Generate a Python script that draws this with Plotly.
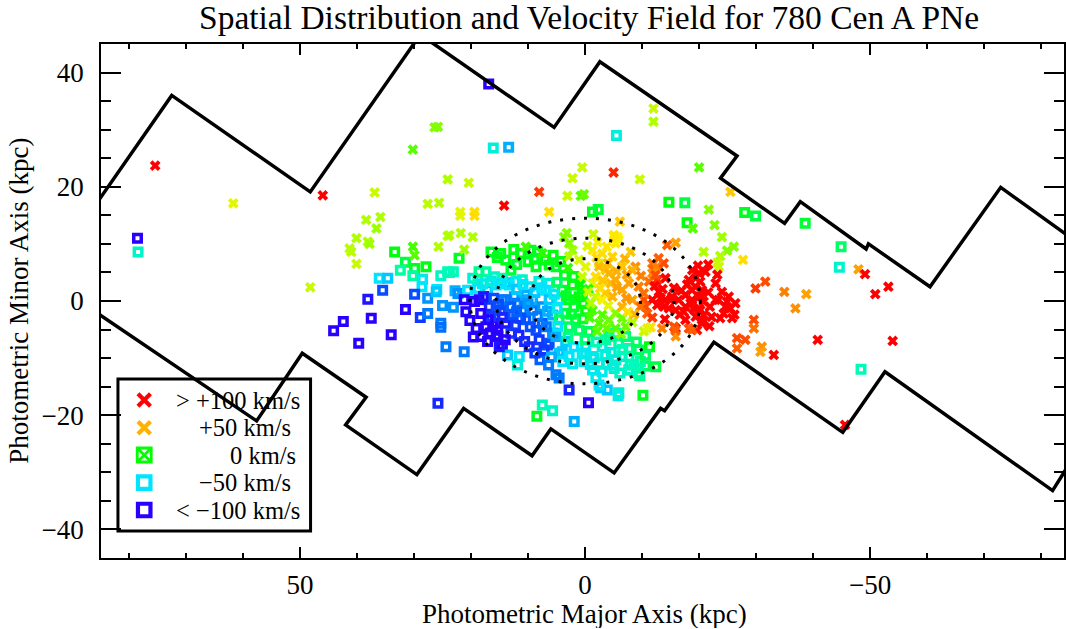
import plotly.graph_objects as go

# ------------------------------------------------------------------
# Data (kpc along photometric major / minor axis, LOS velocity km/s)
# ------------------------------------------------------------------
halo_x = [75.4, 61.7, 46.0, 78.5, 78.4, 26.4, 25.8, 30.2, 24.1, 36.9,
          27.6, 25.6, 35.9, 38.4, 36.6, 40.1, 38.1, 37.8, 41.3, 41.0,
          24.1, 30.2, 29.9, 25.7, 40.1, 48.2]
halo_y = [23.7, 17.1, 18.5, 11.0, 8.6, 30.4, 30.5, 26.5, 21.3, 19.0,
          17.0, 17.2, 14.7, 14.2, 12.7, 11.0, 10.4, 10.0, 9.2, 8.6,
          11.4, 9.5, 8.0, 9.5, 6.5, 2.4]
halo_v = [110, 30, 110, -110, -35, 15, 15, 10, 20, 25,
          22, 20, 20, 20, 18, 20, 20, 18, 22, 22,
          20, 8, 10, 20, 25, 25]

east_x = [33.4, 31.5, 29.9, 27.9, 32.4, 30.2, 28.5, 28.6, 25.3, 24.1,
          36.1, 34.6, 26.0, 35.5, 29.9, 38.1, 27.6, 26.1, 25.0, 31.5,
          28.9, 27.6, 25.3, 25.3, 42.4, 44.1, 37.5, 34.0, 39.7, 24.4,
          25.8]
east_y = [8.6, 6.8, 5.7, 6.0, 5.4, 4.4, 3.8, 2.5, 4.4, 5.1,
          4.0, 4.0, 2.0, 1.9, 1.2, 0.3, 0.5, 1.6, -0.8, -1.5,
          -2.9, -2.2, -3.9, -4.6, -3.6, -5.2, -3.0, -5.9, -7.4, -8.0,
          -17.9]
east_v = [-2, -10, -5, -3, -25, -25, -45, -50, -35, -30,
          -50, -55, -50, -80, -80, -95, -65, -55, -65, -100,
          -85, -70, -70, -72, -105, -110, -105, -110, -100, -70,
          -90]

inner_east_x = [23.8, 21.8, 19.7, 21.2, 22.1, 23.8, 23.1, 22.8, 22.3, 23.1,
                21.2, 19.7, 18.8, 17.4, 15.9, 18.8, 17.1, 15.6, 13.9, 19.4,
                18.6, 16.8, 15.6, 14.5, 12.4, 10.7, 20.9, 19.1, 17.4, 15.6,
                15.3, 13.9, 13.0, 17.1, 15.3, 14.5, 13.6, 11.55, 11.85, 10.4,
                11.0, 11.0, 12.1]
inner_east_y = [11.5, 11.9, 11.2, 9.0, 7.5, 5.0, 5.1, 1.8, 1.3, -1.1,
                -8.9, 4.0, 3.7, 5.1, 4.25, 2.2, 1.9, 2.8, 3.2, -0.1,
                0.2, -1.0, -1.6, 0.2, 0.75, 0.2, -1.9, -4.8, -4.5, -3.9,
                -5.1, -3.9, -5.65, -7.1, -6.2, -7.7, -9.45, -9.7, -11.2, -3.3,
                -1.6, 3.7, 3.4]
inner_east_v = [20, 20, 20, 18, -5, -30, -30, -60, -65, -65,
                -70, -40, -30, -25, -35, -50, -55, -50, -55, -105,
                -100, -90, -80, -70, -65, -60, -105, -110, -105, -100,
                -110, -95, -85, -110, -110, -100, -55, -50, -40, -75,
                -70, -35, -40]

north_x = [16.9, 16.1, 13.4, -5.5, -12.0, -12.0, 0.5, 2.2, -5.0, -9.6,
           -20.0, 8.05, 3.1, 0.75, 0.2, 14.2, 20.4, 21.9, 21.9, 19.4,
           19.4, 6.3, -1.3, -2.3, -6.1, -14.7, -17.5, -21.7, -17.9, -18.9,
           -22.7, -24.0, -26.1, -24.9, -23.7, -23.2, -23.5, -20.8, -27.7, -28.0,
           3.2, 3.7, 2.8, -1.45, -5.1, -5.7, -14.4, -15.9, -25.5, -29.9,
           -38.6, -44.9, -44.6]
north_y = [38.0, 26.8, 26.9, 29.0, 33.7, 31.4, 23.4, 21.5, 22.5, 21.3,
           23.4, 19.1, 18.4, 18.4, 18.7, 16.7, 20.7, 15.6, 14.9, 15.6,
           14.9, 15.6, 15.6, 16.0, 13.9, 17.3, 17.2, 16.0, 13.7, 12.7,
           13.3, 11.2, 9.5, 8.8, 7.9, 6.7, 6.0, 8.6, 7.2, 15.5,
           11.9, 11.2, 10.1, 11.7, 11.2, 11.2, 9.8, 10.2, 19.1, 14.9,
           13.6, 9.5, 5.9]
north_v = [-105, -40, -60, -40, 25, 20, 25, 25, 90, 25,
           10, 85, 25, 10, 12, 110, 25, 30, 30, 40,
           40, 40, -5, -8, 45, -2, -10, 15, -2, 10,
           15, 18, 15, 15, 20, 25, 25, 20, 40, -5,
           15, 15, 15, 25, 35, 35, 75, 55, 45, -10,
           -8, -15, -35]

west_x = [-34.95, -38.8, -47.95, -49.1, -50.9, -53.2, -40.8, -53.95, -48.4, -45.6,
          -29.9, -31.6, -36.9, -29.6, -29.6, -26.65, -28.1, -26.65, -31.0, -30.75,
          -33.1]
west_y = [1.6, 1.2, 5.55, 4.7, 1.2, 2.5, -6.8, -7.0, -11.95, -21.7,
          2.2, 3.4, -1.3, -3.3, -4.8, -6.5, -6.8, -8.3, -8.0, -8.9,
          -9.45]
west_v = [65, 55, 55, 110, 110, 105, 110, 110, -30, 110,
          85, 80, 60, 80, 70, 80, 80, 75, 60, 55,
          110]

south_x = [7.5, 5.7, 8.45, 1.9, -0.6, 2.8, -2.75, -3.9, -5.8, -10.15,
           5.1, 4.55, 7.9, -1.3, -3.0, -5.1, -7.9, -9.6, -10.6, -12.4,
           -11.3, 5.4, 6.6, 4.0, -0.1, -1.6, -2.45, -3.6, -5.4, -7.7,
           -9.4, -7.7, -5.9, -2.45]
south_y = [-18.2, -19.2, -20.2, -21.1, -17.8, -15.6, -15.2, -15.6, -16.6, -16.5,
           -12.9, -13.5, -10.3, -12.1, -12.4, -11.8, -11.2, -13.1, -11.4, -11.5,
           -8.0, -5.65, -7.7, -8.9, -9.15, -10.0, -10.9, -9.45, -10.3, -9.7,
           -12.65, -12.1, -16.1, -14.7]
south_v = [-30, -35, -5, -60, -105, -90, -55, -55, -45, -5,
           -70, -70, -75, -45, -45, -40, -30, -20, -15, -10,
           -2, -60, -80, -55, -45, -40, -40, -40, -35, -30,
           -25, -35, -40, -50]

red_x = [-18.8, -20.0, -21.1, -19.4, -20.2, -22.9, -20.5, -20.0, -20.8, -20.0,
         -19.4, -20.5, -22.9, -24.9, -25.5, -24.3, -25.8, -23.7, -17.6, -18.5,
         -17.3, -15.6, -15.0, -15.9, -11.8, -13.25, -12.65, -13.8, -12.95, -14.1,
         -12.65, -11.8, -12.1, -10.3, -10.6, -15.9, -18.2, -19.65, -11.5, -10.3,
         -12.65, -11.8, -11.2, -10.9, -13.5, -15.6, -15.9, -18.8,
         -14.1, -15.25, -16.4, -17.6, -18.75, -18.75, -18.2, -20.5, -20.2, -20.8,
         -17.6, -20.5, -19.35, -23.4, -24.6, -25.2, -26.35, -15.85, -12.35, -13.8,
         -12.9]
red_y = [5.4, 4.85, 5.1, 4.0, 3.4, 3.1, 1.9, 0.75, -0.1, -1.3,
         -2.75, -3.3, 0.2, -0.1, -1.3, -2.2, -3.0, -3.0, 1.05, -0.4,
         -1.9, 2.3, 0.2, -1.6, 0.2, 0.5, -0.7, -1.0, 1.6, 4.0,
         3.7, 6.6, 5.4, 0.2, -1.0, -4.8, -4.8, -5.1, -4.6, -5.3,
         6.0, 4.85, 3.4, -4.8, -4.8, -4.5, -6.2, -5.0,
         0.2, 0.75, 0.2, -1.0, 0.2, 1.9, 3.7, 0.75, -1.6, -2.45,
         -3.3, -3.9, 2.5, 0.2, -1.0, 0.75, -0.4, -5.1, 4.55, 6.6,
         7.5]
red_v = [110, 110, 105, 110, 105, 105, 110, 105, 110, 110,
         105, 110, 110, 110, 105, 110, 110, 110, 105, 100,
         105, 100, 100, 100, 100, 110, 110, 110, 100, 110,
         90, 70, 75, 80, 80, 100, 80, 95, 40, 25,
         65, 60, 70, 30, 65, 80, 60, 75,
         105, 105, 110, 110, 110, 110, 105, 110, 110, 110,
         105, 105, 110, 110, 110, 110, 110, 75, 80, 80,
         75]

core_x = [16.5, 14.8, 13.9, 13.0, 11.3, 9.5, 8.35, 8.9, 7.5, 10.4, 8.6, 6.3, 5.1, 4.3,
          18.6, 14.5, 20.6, 13.3, 9.8, 8.1, 6.3, 6.9,
          16.2, 15.6, 15.05, 21.2,
          16.5, 14.8, 13.9, 11.85, 10.4, 12.7, 11.3, 9.2, 8.6, 7.5,
          8.05, 6.3, 7.2, 9.8, 5.7, 9.2, 7.5, 5.7, 6.3, 4.55,
          5.1, 3.4, 1.95, 4.55, 2.8,
          -4.8, -6.5, -9.7, -0.1, -3.0, 0.5, -1.3,
          -3.6, -5.9, -7.7, -5.35, -7.1, -9.4,
          4.0, 2.2, 2.8, 1.05, 1.95, -0.1, 3.4, 1.65, 0.5,
          2.8, 1.05, -0.7, 4.55,
          -1.3, -3.0, -2.45, -4.2, -5.35, -6.5, -5.35, -7.1,
          2.2, 2.8, -2.45,
          1.05, -0.1, 0.5, -1.3, -1.85, -1.0,
          -1.3, -3.0, -4.8, -5.35, -6.5, -3.6, -1.85, -4.5, -5.9, -5.05,
          -2.45, -4.2, -5.35, -6.5, -4.8, -7.7, -8.3, -6.5, -3.6,
          -8.85, -9.4, -9.7, -8.3, -10.3,
          -9.4, -7.7, -5.9]
core_y = [8.6, 8.3, 7.2, 5.4, 8.3, 8.9, 8.6, 7.5, 8.35, 9.5, 6.0, 6.3, 6.0, 6.9,
          5.1, 4.0, 1.9, 2.8, 2.5, 3.4, 3.1, 1.9,
          -4.2, -6.0, -8.0, 0.2,
          -2.7, -1.6, 0.2, -0.4, 1.05, -2.45, -3.0, -1.6, -5.1, -3.9,
          -6.8, -7.4, -8.6, -8.0, -5.65, 0.2, -1.0, -2.45, 0.2, 0.2,
          -6.2, -7.1, -8.0, -9.15, -9.7,
          -11.2, -9.7, -10.6, -8.0, -8.0, -9.15, -9.7,
          -6.8, -7.4, -8.3, -5.65, -6.2, -8.6,
          1.9, 2.8, 0.2, 0.75, -1.0, -1.6, -2.15, -3.3, 1.35,
          -4.5, -5.1, -5.35, -3.3,
          -1.6, -2.45, -3.9, -3.3, -2.15, -3.0, -4.8, -4.5,
          8.9, 7.8, 6.6,
          7.2, 6.0, 4.25, 3.1, 0.75, -0.4,
          8.9, 8.3, 7.75, 10.1, 6.0, 5.4, 4.25, 3.1, 10.7, 11.55,
          6.0, 4.85, 3.7, 1.95, 0.75, 3.1, 0.2, -1.0, 1.35,
          6.0, 2.5, -1.0, 5.4, 1.35,
          -12.65, -12.1, -16.1]
core_v = [-5, -3, -5, -8, -2, -4, -6, -5, 5, 8, -5, -4, -6, -3,
          -22, -28, -50, -50, -45, -40, -40, -50,
          -100, -105, -95, -105,
          -85, -80, -70, -70, -60, -80, -80, -70, -80, -75,
          -85, -80, -85, -90, -65, -60, -65, -60, -55, -50,
          -60, -55, -50, -55, -50,
          -40, -35, -25, -45, -42, -45, -45,
          -25, -25, -22, -20, -18, -15,
          -5, -3, -5, -2, -6, -2, -8, -8, -3,
          -15, -15, -12, -15,
          8, 10, 10, 12, 15, 12, 10, 12,
          18, 20, 25,
          28, 30, 25, 30, 25, 20,
          38, 40, 42, 38, 45, 45, 40, 48, 35, 38,
          48, 50, 52, 55, 50, 55, 55, 50, 45,
          60, 65, 70, 50, 70,
          -25, -35, -40]

core_blue_x = [18.0, 16.5, 14.9, 12.0, 10.9, 8.8, 7.6, 5.4,
               17.8, 16.0, 15.2, 13.0, 12.0, 10.0, 8.3, 6.6, 4.9,
               18.3, 17.0, 14.5, 12.2, 9.6, 6.8, 4.8,
               18.2, 16.6, 14.0, 11.6, 10.6, 8.8, 5.9, 3.9, 2.2, 6.4,
               19.6, 20.2]
core_blue_y = [3.0, 3.5, 3.0, 2.0, 2.9, 1.5, 2.3, 1.2,
               0.8, 0.5, -0.6, -1.0, -1.9, -0.5, -2.7, -1.8, -1.3,
               -2.2, -3.3, -2.9, -4.3, -4.5, -4.5, -4.4,
               -6.2, -5.6, -6.8, -6.0, -7.1, -9.1, -9.8, -10.6, -11.0, -11.2,
               -6.3, -3.4]
core_blue_v = [-45, -40, -50, -55, -50, -55, -50, -45,
               -95, -80, -80, -75, -75, -65, -70, -60, -45,
               -100, -100, -90, -85, -80, -70, -50,
               -110, -105, -100, -90, -90, -85, -60, -50, -45, -70,
               -110, -105]

core_green_x = [3.6, 2.0, 0.8, 3.3, 0.3, 2.4, 0.4, -0.6, 4.9, 3.0, 0.0,
                15.4, 12.5, 10.0, 7.0, 5.6, 3.0, 12.0,
                -2.1, -3.8, -6.3, -8.3, -0.8]
core_green_y = [4.5, 4.3, 2.9, 0.9, -0.5, -2.3, -3.1, 2.1, 3.3, -6.3, -6.8,
                7.6, 9.0, 6.9, 7.2, 8.0, 5.8, 6.4,
                -5.3, -4.8, -5.8, -3.7, -2.9]
core_green_v = [-5, -3, 0, -6, -2, -8, -6, 2, -15, -20, -18,
                -5, -3, -4, -3, -2, 5, -6,
                10, 12, 15, 20, 8]

core_yellow_x = [-0.4, -2.2, -3.8, -2.0, -4.0, -5.5, -7.3, -7.0, -3.1, -2.6,
                 -5.6, -7.2, -3.0, -4.1, -8.6, -7.5, -9.8, -8.0, -0.5]
core_yellow_y = [9.6, 10.3, 9.5, 7.6, 6.6, 5.2, 4.6, 7.4, 3.6, 2.2,
                 2.4, 0.5, 0.2, -0.8, -2.3, -1.9, 4.4, 8.6, 1.6]
core_yellow_v = [28, 35, 38, 40, 48, 50, 55, 50, 45, 40,
                 55, 58, 35, 30, 50, 40, 65, 45, 25]

core_red_x = [-12.2, -13.6, -14.7, -16.6, -16.9, -17.9, -19.0, -21.6, -21.9, -22.2,
              -21.8, -24.0, -26.2, -19.8, -21.6, -23.2, -10.9, -11.8, -14.0]
core_red_y = [2.6, 2.1, -1.3, -2.4, 1.8, 2.9, -1.4, 1.5, -1.0, -2.8,
              -4.4, 1.6, -2.4, 6.2, 6.4, 4.6, -2.2, -2.9, -3.2]
core_red_v = [100, 105, 110, 105, 110, 105, 110, 110, 110, 105,
              110, 110, 105, 110, 105, 105, 75, 85, 100]

core_cyan_x = [0.2, -0.9, -3.8, -4.6, -6.6, -8.6, -6.1, -1.9, -10.6, -9.0, -2.0, -4.2]
core_cyan_y = [-10.6, -11.1, -11.0, -9.0, -8.5, -11.2, -12.6, -13.4, -9.5, -7.2, -7.2, -6.2]
core_cyan_v = [-45, -45, -40, -40, -30, -30, -35, -45, -15, -15, -30, -22]

# survey field boundary (kpc)
edge_upper_x = [90.0, 72.5, 48.2, 28.9, 5.43, -2.6, -26.65, -23.75, -35.0, -37.75,
                -49.3, -49.7, -60.5, -72.9, -90.0]
edge_upper_y = [10.9, 36.0, 19.1, 46.65, 30.4, 41.9, 25.4, 21.5, 13.6, 17.4,
                9.1, 10.0, 2.5, 19.9, 7.6]
edge_lower_x = [90.0, 57.6, 49.6, 38.4, 42.0, 29.5, 21.3, 9.3, 6.0, -5.1,
                -13.25, -13.95, -22.6, -45.2, -52.6, -82.0, -90.0]
edge_lower_y = [0.9, -21.0, -9.15, -16.85, -21.7, -30.4, -18.8, -27.1, -22.4, -30.1,
                -18.8, -19.2, -7.2, -23.0, -12.4, -33.2, -20.4]

# isophote ellipses (semi-axes, kpc)
ellipse_a = [9.7, 15.6, 20.2]
ellipse_b = [7.4, 11.0, 14.5]

# legend
key_labels = ["&gt; +100 km/s", "+50 km/s", "0 km/s", "\u221250 km/s", "&lt; \u2212100 km/s"]
key_vel = [110, 50, 0, -50, -110]
key_symbols = ["x-thin-open", "x-thin-open", "square-x-open", "square-open", "square-open"]

groups = [(halo_x, halo_y, halo_v), (east_x, east_y, east_v),
          (inner_east_x, inner_east_y, inner_east_v), (north_x, north_y, north_v),
          (west_x, west_y, west_v), (south_x, south_y, south_v),
          (red_x, red_y, red_v), (core_x, core_y, core_v),
          (core_blue_x, core_blue_y, core_blue_v), (core_green_x, core_green_y, core_green_v),
          (core_yellow_x, core_yellow_y, core_yellow_v), (core_red_x, core_red_y, core_red_v),
          (core_cyan_x, core_cyan_y, core_cyan_v)]
pn_x, pn_y, pn_v = [], [], []
for gx, gy, gv in groups:
    assert len(gx) == len(gy) == len(gv), (len(gx), len(gy), len(gv))
    pn_x += gx
    pn_y += gy
    pn_v += gv

VEL_SCALE = [
    [0.0, "rgb(40,0,255)"],
    [0.125, "rgb(0,95,255)"],
    [0.25, "rgb(0,228,255)"],
    [0.375, "rgb(0,255,165)"],
    [0.5, "rgb(0,255,0)"],
    [0.6, "rgb(175,255,0)"],
    [0.68, "rgb(255,240,0)"],
    [0.75, "rgb(255,178,0)"],
    [0.875, "rgb(255,95,0)"],
    [1.0, "rgb(255,0,0)"],
]

FONT = "Liberation Serif, Times New Roman, serif"

fig = go.Figure()

# PNe: receding (x) and approaching (open squares)
pos = [i for i, v in enumerate(pn_v) if v >= 0]
neg = [i for i, v in enumerate(pn_v) if v < 0]
fig.add_trace(go.Scatter(
    x=[pn_x[i] for i in neg], y=[pn_y[i] for i in neg], mode="markers",
    marker=dict(symbol="square-open", size=7.5, opacity=1,
                color=[pn_v[i] for i in neg], colorscale=VEL_SCALE, cmin=-100, cmax=100,
                line=dict(width=3.5)),
    showlegend=False, hoverinfo="skip",
))
fig.add_trace(go.Scatter(
    x=[pn_x[i] for i in pos], y=[pn_y[i] for i in pos], mode="markers",
    marker=dict(symbol="x", size=9.5, opacity=1,
                color=[pn_v[i] for i in pos], colorscale=VEL_SCALE, cmin=-100, cmax=100,
                line=dict(width=0)),
    showlegend=False, hoverinfo="skip",
))

# field boundary
for bx, by in [(edge_upper_x, edge_upper_y), (edge_lower_x, edge_lower_y)]:
    fig.add_trace(go.Scatter(x=bx, y=by, mode="lines",
                             line=dict(color="black", width=3.5),
                             showlegend=False, hoverinfo="skip"))

# isophote ellipses
for a, b in zip(ellipse_a, ellipse_b):
    fig.add_shape(type="circle", xref="x", yref="y", x0=-a, x1=a, y0=-b, y1=b,
                  line=dict(color="black", width=3, dash="3px,9px"), layer="above")

# legend (drawn inside the plot frame)
PLOT_L, PLOT_R, PLOT_T, PLOT_B = 101, 1066, 44, 558
def px(xp):
    return (xp - PLOT_L) / (PLOT_R - PLOT_L)
def py(yp):
    return (PLOT_B - yp) / (PLOT_B - PLOT_T)

key_rows_px = [400, 427.7, 455, 482.7, 510]
key_text_right_px = [301, 292, 297, 292, 301]

fig.add_trace(go.Scatter(
    x=[px(144.3)] * len(key_vel), y=[py(r) for r in key_rows_px],
    xaxis="x2", yaxis="y2", mode="markers",
    marker=dict(symbol=key_symbols, size=[12.5, 12.5, 14, 12.5, 12.5], color=key_vel,
                colorscale=VEL_SCALE, cmin=-100, cmax=100, opacity=1,
                line=dict(width=[4.2, 4.2, 2.8, 4.2, 4.2])),
    showlegend=False, hoverinfo="skip",
))
fig.add_shape(type="rect", xref="paper", yref="paper",
              x0=px(118), x1=px(311), y0=py(531), y1=py(379),
              line=dict(color="black", width=3), fillcolor="rgba(0,0,0,0)", layer="above")

annotations = []
for lab, r, rx in zip(key_labels, key_rows_px, key_text_right_px):
    annotations.append(dict(text=lab, x=px(rx), y=py(r), xref="paper", yref="paper",
                            xanchor="right", yanchor="middle", showarrow=False,
                            borderpad=0,
                            font=dict(family=FONT, size=24.5, color="black")))

annotations.append(dict(text="Spatial Distribution and Velocity Field for 780 Cen A PNe",
                        x=px(590), y=py(18), xref="paper", yref="paper",
                        xanchor="center", yanchor="middle", showarrow=False,
                        font=dict(family=FONT, size=33.5, color="black")))
annotations.append(dict(text="Photometric Major Axis (kpc)",
                        x=px(585.5), y=py(614), xref="paper", yref="paper",
                        xanchor="center", yanchor="middle", showarrow=False,
                        height=28, valign="middle", borderpad=0,
                        font=dict(family=FONT, size=27, color="black")))
annotations.append(dict(text="Photometric Minor Axis (kpc)",
                        x=px(18.5), y=py(301), xref="paper", yref="paper",
                        xanchor="center", yanchor="middle", showarrow=False, textangle=-90,
                        font=dict(family=FONT, size=27, color="black")))

fig.update_layout(
    width=1066, height=629,
    margin=dict(l=PLOT_L, r=1066 - PLOT_R, t=PLOT_T, b=629 - PLOT_B, pad=0),
    paper_bgcolor="white", plot_bgcolor="white",
    font=dict(family=FONT, color="black"),
    showlegend=False,
    annotations=annotations,
    xaxis=dict(
        range=[84.9, -84.0], tickvals=[50, 0, -50], ticktext=["50", "0", "\u221250"],
        ticks="inside", ticklen=11, tickwidth=1.5, tickcolor="black",
        minor=dict(dtick=10, tick0=0, ticks="inside", ticklen=5, tickwidth=1.5, tickcolor="black"),
        showline=True, linecolor="black", linewidth=1.5, mirror="ticks",
        showgrid=False, zeroline=False, ticklabelstandoff=2,
        tickfont=dict(family=FONT, size=27, color="black"),
    ),
    yaxis=dict(
        range=[-45, 45], tickvals=[-40, -20, 0, 20, 40],
        ticktext=["\u221240", "\u221220", "0", "20", "40"],
        ticks="inside", ticklen=20, tickwidth=1.5, tickcolor="black",
        minor=dict(dtick=5, tick0=0, ticks="inside", ticklen=10, tickwidth=1.5, tickcolor="black"),
        showline=True, linecolor="black", linewidth=1.5, mirror="ticks",
        showgrid=False, zeroline=False, ticklabelstandoff=10,
        tickfont=dict(family=FONT, size=27, color="black"),
    ),
    xaxis2=dict(overlaying="x", range=[0, 1], visible=False, fixedrange=True),
    yaxis2=dict(overlaying="y", range=[0, 1], visible=False, fixedrange=True),
)

fig.write_html("out.html")
